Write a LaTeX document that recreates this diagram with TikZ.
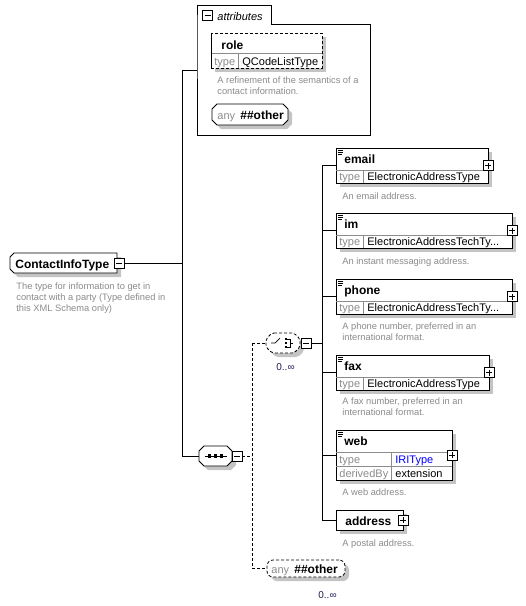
\documentclass[tikz,border=0pt]{standalone}
\usepackage{fontspec}
\setmainfont{Liberation Sans}
\usetikzlibrary{shadows}
\definecolor{shdc}{HTML}{C4C4C4}
\definecolor{dgray}{HTML}{8A8A8A}
\definecolor{tgray}{HTML}{8C8C8C}
\definecolor{divc}{HTML}{8C8C8C}
\definecolor{iri}{HTML}{0000FF}
\definecolor{occ}{HTML}{1A1A50}
\newcommand\mns[1]{\draw[line width=0.7pt] ([xshift=2pt]#1.west) -- ([xshift=-2pt]#1.east);}
\newcommand\pls[1]{\mns{#1}\draw[line width=0.7pt] ([yshift=-2pt]#1.north) -- ([yshift=2pt]#1.south);}
\newcommand\docic[1]{%
  \draw[line width=0.6pt] ([xshift=2pt,yshift=-2pt]#1.north west) -- ++(5,0);
  \draw[line width=0.6pt] ([xshift=2pt,yshift=-4pt]#1.north west) -- ++(5,0);
  \draw[line width=0.6pt] ([xshift=2pt,yshift=-6pt]#1.north west) -- ++(4,0);}
% octagon outline from a node's anchors
\newcommand\octpath[2]{([xshift=#2]#1.north west) -- ([xshift=-#2]#1.north east) -- ([yshift=-#2]#1.north east) -- ([yshift=#2]#1.south east) -- ([xshift=-#2]#1.south east) -- ([xshift=#2]#1.south west) -- ([yshift=#2]#1.south west) -- ([yshift=-#2]#1.north west) -- cycle}
\newcommand\leftoctpath[2]{([xshift=#2]#1.north west) -- (#1.north east) -- (#1.south east) -- ([xshift=#2]#1.south west) -- ([yshift=#2]#1.south west) -- ([yshift=-#2]#1.north west) -- cycle}
\newcommand\tel[6]{%
  \node[box, shd, minimum width=#4pt, minimum height=35pt, anchor=north west] (#1) at (#2,#3) {};
  \draw[divc, line width=0.6pt] ([yshift=-22pt]#1.north west) -- ([yshift=-22pt]#1.north east);
  \draw[divc, line width=0.6pt] ([xshift=27pt,yshift=-22pt]#1.north west) -- ([xshift=27pt]#1.south west);
  \docic{#1}
  \node[nm] (#1-n) at (#2+8,#3+15) {#5};
  \node[tl] (#1-tl) at (#2+3,#3+32) {type};
  \node[tv] (#1-tv) at (#2+31,#3+32) {#6};
  \node[pmbox] (#1-p) at (#1.east) {}; \pls{#1-p}}
\begin{document}
\begin{tikzpicture}[x=1pt,y=-1pt,line width=0.8pt,
  box/.style={draw=black, fill=white, inner sep=0pt, outer sep=0pt, line width=0.8pt},
  ghost/.style={inner sep=0pt, outer sep=0pt},
  shd/.style={drop shadow={shadow xshift=4pt, shadow yshift=-4pt, fill=shdc, opacity=1}},
  shdpath/.style={fill=shdc, draw=none, transform canvas={shift={(4pt,-4pt)}}},
  pmbox/.style={draw=black, fill=white, minimum size=10pt, inner sep=0pt, outer sep=0pt, line width=0.7pt},
  nm/.style={font=\bfseries\fontsize{12}{14}\selectfont, anchor=base west, inner sep=0pt},
  tl/.style={text=tgray, font=\fontsize{11}{13}\selectfont, anchor=base west, inner sep=0pt},
  tv/.style={font=\fontsize{11}{13}\selectfont, anchor=base west, inner sep=0pt},
  desc/.style={text=dgray, font=\fontsize{9.3}{11}\selectfont, anchor=north west, inner sep=0pt, align=left},
  occl/.style={text=occ, font=\fontsize{10}{12}\selectfont, anchor=base west, inner sep=0pt},
  dsh/.style={dash pattern=on 3pt off 2pt}]
\useasboundingbox (0,0) rectangle (526,606);

% ---- ContactInfoType
\node[ghost, minimum width=107pt, minimum height=20pt] (cit) at (63.5,263) {};
\fill[shdpath] \leftoctpath{cit}{4pt};
\filldraw[fill=white] \leftoctpath{cit}{4pt};
\node[nm] (cit-n) at (15,268) {ContactInfoType};
\node[pmbox] (cit-m) at (119,263) {}; \mns{cit-m}
\node[desc] (cit-d) at (16,282) {The type for information to get in\\contact with a party (Type defined in\\this XML Schema only)};

% ---- attributes group
\node[ghost, minimum width=173pt, minimum height=111pt, anchor=north west] (attr) at (197,24) {};
\draw (attr.south west) -- (attr.north west) -- ++(0,-19) -- ++(74,0) -- ++(0,19) -- (attr.north east) -- (attr.south east) -- cycle;
\node[pmbox] (attr-m) at (207.5,15.5) {}; \mns{attr-m}
\node[anchor=base west, inner sep=0pt, font=\itshape\fontsize{11}{13}\selectfont] (attr-t) at (217,20) {attributes};

\node[box, shd, dsh, minimum width=111pt, minimum height=35pt, anchor=north west] (role) at (211,33) {};
\draw[divc, line width=0.6pt] ([yshift=-20pt]role.north west) -- ([yshift=-20pt]role.north east);
\draw[divc, line width=0.6pt] ([xshift=27pt,yshift=-20pt]role.north west) -- ([xshift=27pt]role.south west);
\draw[dsh] (role.north west) rectangle (role.south east);
\node[nm] (role-n) at (221,49) {role};
\node[tl] (role-tl) at (214,65) {type};
\node[tv] (role-tv) at (242,65) {QCodeListType};
\node[desc] (role-d) at (217,76) {A refinement of the semantics of a\\contact information.};

\node[ghost, minimum width=76pt, minimum height=21pt] (any1) at (250,114.5) {};
\fill[shdpath] \octpath{any1}{5pt};
\filldraw[fill=white] \octpath{any1}{5pt};
\node[tl] (any1-a) at (217,119) {any};
\node[nm] (any1-o) at (240,119) {\#\#other};

% ---- sequence
\node[ghost, minimum width=33pt, minimum height=20pt] (seq) at (215.5,456) {};
\fill[shdpath] \octpath{seq}{5pt};
\filldraw[fill=white] \octpath{seq}{5pt};
\draw ([xshift=-11pt]seq.center) -- ([xshift=11pt]seq.center);
\foreach \dx in {-6,0,6} \fill ([xshift=\dx pt]seq.center) +(-1.6,-1.6) rectangle +(1.6,1.6);
\node[pmbox] (seq-m) at (237,456) {}; \mns{seq-m}

% ---- choice
\node[ghost, minimum width=34pt, minimum height=20pt] (ch) at (283,343) {};
\fill[shdpath, rounded corners=2pt] \octpath{ch}{6pt};
\filldraw[fill=white, dsh, rounded corners=2pt] \octpath{ch}{6pt};
\draw[line width=0.7pt] ([xshift=-12pt]ch.center) -- ++(4,0) -- ++(5,-5);
\foreach \dy in {-4,0,4} \fill ([xshift=3pt,yshift=\dy pt]ch.center) +(-1.4,-1.4) rectangle +(1.4,1.4);
\draw[line width=0.6pt] ([xshift=4pt,yshift=4pt]ch.center) -- ++(3,0) -- ++(0,8) -- ++(-3,0);
\draw[line width=0.6pt] ([xshift=7pt]ch.center) -- ++(3,0);
\node[pmbox] (ch-m) at (306,343) {}; \mns{ch-m}
\node[occl] (ch-o) at (276,370) {0..∞};

% ---- elements
\tel{email}{336}{148}{152}{email}{ElectronicAddressType}
\node[desc] (email-d) at (342,192) {An email address.};
\tel{im}{336}{213}{176}{im}{ElectronicAddressTechTy...}
\node[desc] (im-d) at (342,257) {An instant messaging address.};
\tel{phone}{336}{279}{176}{phone}{ElectronicAddressTechTy...}
\node[desc] (phone-d) at (342,322) {A phone number, preferred in an\\international format.};
\tel{fax}{336}{355}{153}{fax}{ElectronicAddressType}
\node[desc] (fax-d) at (342,397) {A fax number, preferred in an\\international format.};

\node[box, shd, minimum width=116pt, minimum height=50pt, anchor=north west] (web) at (336,430) {};
\draw[divc, line width=0.6pt] ([yshift=-22pt]web.north west) -- ([yshift=-22pt]web.north east);
\draw[divc, line width=0.6pt] ([yshift=-36pt]web.north west) -- ([yshift=-36pt]web.north east);
\draw[divc, line width=0.6pt] ([xshift=55pt,yshift=-22pt]web.north west) -- ([xshift=55pt]web.south west);
\docic{web}
\node[nm] (web-n) at (344,445) {web};
\node[tl] (web-tl) at (339,463) {type};
\node[tv, text=iri] (web-tv) at (395,463) {IRIType};
\node[tl] (web-dl) at (339,477) {derivedBy};
\node[tv] (web-dv) at (395,477) {extension};
\node[pmbox] (web-p) at (web.east) {}; \pls{web-p}
\node[desc] (web-d) at (342,488) {A web address.};

\node[box, shd, minimum width=67pt, minimum height=20pt, anchor=north west] (address) at (336,510) {};
\node[nm] (address-n) at (345,525) {address};
\node[pmbox] (address-p) at (address.east) {}; \pls{address-p}
\node[desc] (address-d) at (342,539) {A postal address.};

% ---- any ##other (bottom)
\node[box, shd, dsh, rounded corners=6pt, minimum width=78pt, minimum height=17pt] (any2) at (306,568.5) {};
\node[tl] (any2-a) at (271,573) {any};
\node[nm] (any2-o) at (294,573) {\#\#other};
\node[occl] (any2-c) at (318,598) {0..∞};

% ---- connectors
\coordinate (trunk) at (182,70);
\coordinate (attrin) at (197,70);
\coordinate (dv) at (252,343);
\coordinate (bus) at (322,343);
\draw (cit-m.east) -- (trunk |- cit-m.east);
\draw (trunk) -- (trunk |- seq.west);
\draw (trunk) -- (attrin);
\draw (trunk |- seq.west) -- (seq.west);
\draw[dsh] (seq-m.east) -- (dv |- seq-m.east);
\draw[dsh] (dv) -- (dv |- any2.west);
\draw[dsh] (dv) -- (ch.west);
\draw[dsh] (dv |- any2.west) -- (any2.west);
\draw (ch-m.east) -- (bus);
\draw (bus |- email.west) -- (bus |- address.west);
\foreach \e in {email,im,phone,fax,web,address} \draw (bus |- \e.west) -- (\e.west);
\end{tikzpicture}
\end{document}
